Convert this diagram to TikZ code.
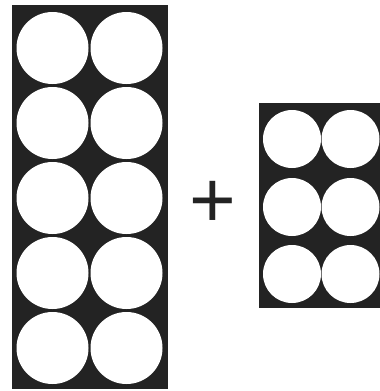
\documentclass[tikz,border=0pt]{standalone}
\usepackage{fontspec}
\setmainfont{Liberation Sans}
\definecolor{boxdark}{HTML}{232323}
\tikzset{
  panel/.style={fill=boxdark, draw=none},
  hole/.style={circle, fill=white, draw=none, inner sep=0pt},
  bighole/.style={hole, minimum size=72pt},
  smallhole/.style={hole, minimum size=58pt},
}
\begin{document}
\begin{tikzpicture}[x=1pt,y=-1pt]
\useasboundingbox (0,0) rectangle (380,391);
% left panel
\fill[panel] (11.5,5) rectangle (167.8,389);
\foreach \r [count=\i] in {48,123,198,273,348} {
  \node[bighole] (L\i a) at (52.5,\r) {};
  \node[bighole] (L\i b) at (126.5,\r) {};
}
% plus
\node[inner sep=0pt, text=boxdark, font=\fontsize{80}{80}\selectfont] (plus) at (212.5,204) {+};
% right panel
\fill[panel] (258.8,102.5) rectangle (380,308.3);
\foreach \r [count=\i] in {139,207,274} {
  \node[smallhole] (R\i a) at (292,\r) {};
  \node[smallhole] (R\i b) at (350.5,\r) {};
}
\end{tikzpicture}
\end{document}
